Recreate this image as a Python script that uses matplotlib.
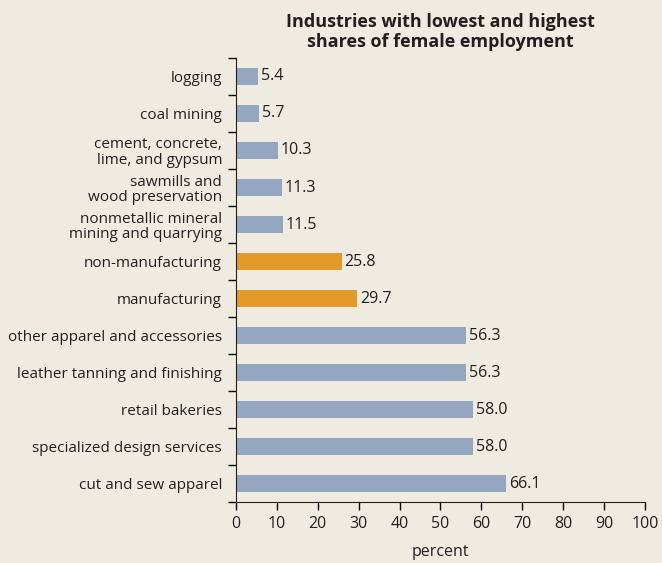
import matplotlib.pyplot as plt
import numpy as np

# Female share of employment by industry
industries = ["logging", "coal mining", "cement, concrete,\nlime, and gypsum",
              "sawmills and\nwood preservation", "nonmetallic mineral\nmining and quarrying",
              "non-manufacturing", "manufacturing", "other apparel and accessories",
              "leather tanning and finishing", "retail bakeries",
              "specialized design services", "cut and sew apparel"]
shares = [5.4, 5.7, 10.3, 11.3, 11.5, 25.8, 29.7, 56.3, 56.3, 58.0, 58.0, 66.1]
highlight = [False, False, False, False, False, True, True, False, False, False, False, False]
xticks = [0, 10, 20, 30, 40, 50, 60, 70, 80, 90, 100]

bg = "#efebe1"
blue = "#95a6c0"
orange = "#e39a28"
ink = "#231f20"

plt.rcParams['font.family'] = ['Open Sans', 'DejaVu Sans']

fig = plt.figure(figsize=(6.62, 5.63), dpi=100, facecolor=bg)
ax = fig.add_axes([0.3565, 0.1083, 0.6178, 0.7887], facecolor=bg)

ypos = np.arange(len(industries))
colors = [orange if h else blue for h in highlight]
ax.barh(ypos, shares, height=0.48, color=colors)

for y, v in zip(ypos, shares):
    ax.text(v + 0.6, y, "%.1f" % v, va="center", ha="left", fontsize=11.5, color=ink)

ax.set_ylim(len(industries) - 0.5, -0.5)
ax.set_xlim(0, 100)
ax.set_yticks(ypos)
ax.set_yticklabels(industries, fontsize=11, color=ink, linespacing=1.08)
ax.set_yticks(np.arange(len(industries) + 1) - 0.5, minor=True)
ax.tick_params(axis="y", which="major", length=0, pad=10)
ax.tick_params(axis="y", which="minor", length=6, width=1, direction="out")
ax.set_xticks(xticks)
ax.tick_params(axis="x", length=6, width=1, labelsize=11.5, labelcolor=ink, pad=4)

ax.spines["top"].set_visible(False)
ax.spines["right"].set_visible(False)
ax.spines["left"].set_color(ink)
ax.spines["bottom"].set_color(ink)

ax.set_xlabel("percent", fontsize=11.5, color=ink, labelpad=9)
ax.set_title("Industries with lowest and highest\nshares of female employment",
             fontsize=13, fontweight="bold", color=ink, pad=8, linespacing=1.1)

fig.savefig("out.png", dpi=100, facecolor=bg)
